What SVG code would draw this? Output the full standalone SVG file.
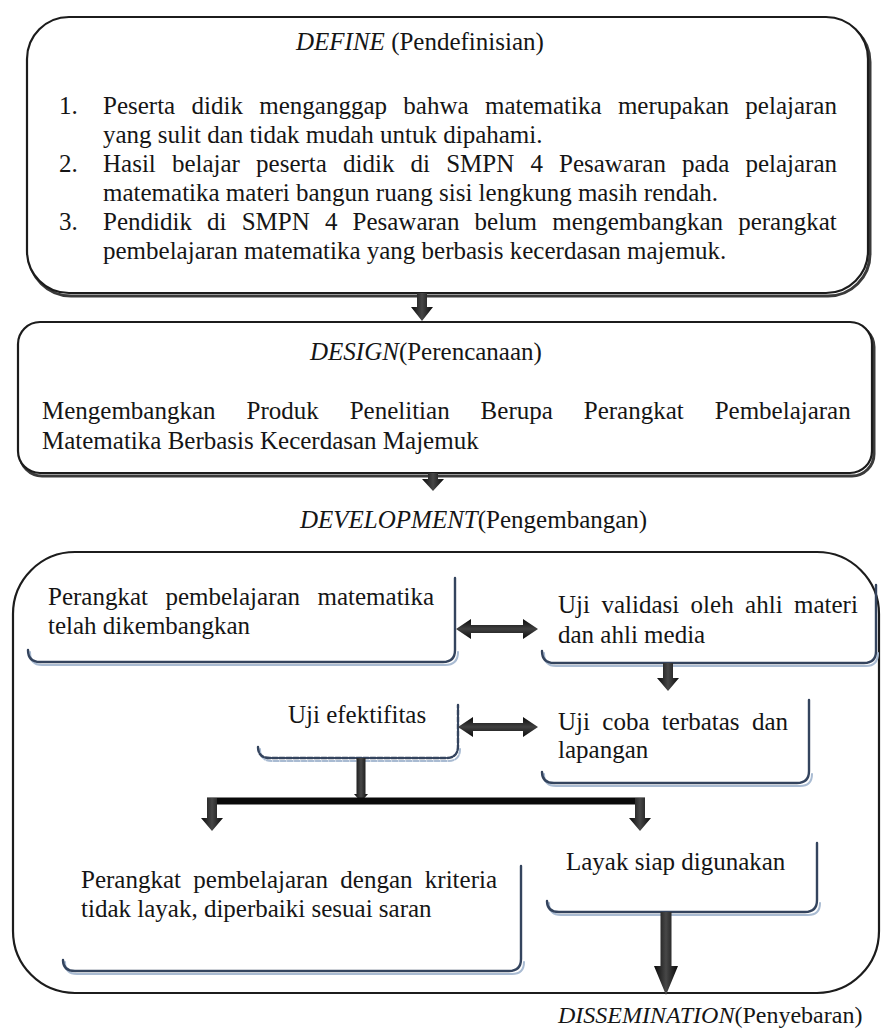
<svg xmlns="http://www.w3.org/2000/svg" width="881" height="1034" viewBox="0 0 881 1034">
<style>
text{font-family:'Liberation Serif','DejaVu Serif',serif;font-size:25px;fill:#151515}
.it{font-style:italic}
.main{fill:#fff;stroke:#1c1c1c;stroke-width:2.2}
.shadow{fill:none;stroke:#3a3a3a;stroke-width:3}
.sb{fill:none;stroke:#34445e;stroke-width:2.4;stroke-linecap:round}
.sbl{fill:none;stroke:#a9bbd2;stroke-width:2;stroke-linecap:round}
.dash{stroke-dasharray:5 2}
</style>
<defs>
<linearGradient id="gv" x1="0" y1="0" x2="1" y2="0">
<stop offset="0" stop-color="#0a0a0a"/><stop offset="0.5" stop-color="#474747"/><stop offset="1" stop-color="#0a0a0a"/>
</linearGradient>
<linearGradient id="gh" x1="0" y1="0" x2="0" y2="1">
<stop offset="0" stop-color="#0a0a0a"/><stop offset="0.5" stop-color="#404040"/><stop offset="1" stop-color="#0a0a0a"/>
</linearGradient>
</defs>
<rect width="881" height="1034" fill="#fff"/>

<g id="define">
<rect class="shadow" x="29" y="20" width="841" height="276" rx="42"/>
<rect class="main" x="27" y="17" width="841" height="276" rx="42"/>
<text x="296" y="50"><tspan class="it">DEFINE</tspan> (Pendefinisian)</text>
<text y="114"><tspan x="59">1.</tspan><tspan x="103" style="word-spacing:10.1px">Peserta didik menganggap bahwa matematika merupakan pelajaran</tspan></text>
<text x="103" y="143">yang sulit dan tidak mudah untuk dipahami.</text>
<text y="172"><tspan x="59">2.</tspan><tspan x="103" style="word-spacing:9.9px">Hasil belajar peserta didik di SMPN 4 Pesawaran pada pelajaran</tspan></text>
<text x="103" y="201">matematika materi bangun ruang sisi lengkung masih rendah.</text>
<text y="230"><tspan x="59">3.</tspan><tspan x="103" style="word-spacing:8.9px">Pendidik di SMPN 4 Pesawaran belum mengembangkan perangkat</tspan></text>
<text x="103" y="259">pembelajaran matematika yang berbasis kecerdasan majemuk.</text>
</g>

<g id="design">
<rect class="shadow" x="20" y="325" width="854" height="151" rx="22"/>
<rect class="main" x="18" y="322" width="854" height="151" rx="22"/>
<text x="310" y="360"><tspan class="it">DESIGN</tspan>(Perencanaan)</text>
<text x="42" y="419" style="word-spacing:24.7px">Mengembangkan Produk Penelitian Berupa Perangkat Pembelajaran</text>
<text x="42" y="449">Matematika Berbasis Kecerdasan Majemuk</text>
</g>

<g id="development">
<text x="300" y="528"><tspan class="it">DEVELOPMENT</tspan>(Pengembangan)</text>
<rect class="main" x="13" y="552" width="866" height="441" rx="62"/>
</g>

<g id="boxA">
<path class="sbl" d="M30,652 Q30,665 42,665 L445,665 Q458,665 458,652"/>
<path class="sb" d="M28,650 Q28,662 40,662 L443,662 Q455,662 455,650 L455,578"/>
<text x="48" y="605" style="word-spacing:11.2px">Perangkat pembelajaran matematika</text>
<text x="48" y="634">telah dikembangkan</text>
</g>

<g id="boxB">
<path class="sbl" d="M544,653 Q544,666 556,666 L866,666 Q878,666 878,653"/>
<path class="sb" d="M542,651 Q542,663 554,663 L864,663 Q876,663 876,651 L876,585"/>
<text x="558" y="613" style="word-spacing:5.2px">Uji validasi oleh ahli materi</text>
<text x="558" y="643">dan ahli media</text>
</g>

<g id="boxC">
<path class="sbl dash" d="M260,749 Q260,761 272,761 L448,761 Q460,761 460,749"/>
<path class="sb dash" d="M258,747 Q258,758 270,758 L446,758 Q458,758 458,746 L458,705"/>
<text x="288" y="723">Uji efektifitas</text>
</g>

<g id="boxD">
<path class="sbl" d="M544,774 Q544,786 556,786 L800,786 Q812,786 812,774"/>
<path class="sb" d="M542,772 Q542,783 554,783 L797,783 Q809,783 809,771 L809,700"/>
<text x="558" y="730" style="word-spacing:6.1px">Uji coba terbatas dan</text>
<text x="558" y="758">lapangan</text>
</g>

<g id="boxE">
<path class="sbl" d="M65,962 Q65,974 77,974 L512,974 Q524,974 524,962"/>
<path class="sb" d="M63,960 Q63,971 75,971 L509,971 Q521,971 521,959 L521,866"/>
<text x="81" y="888" style="word-spacing:6.1px">Perangkat pembelajaran dengan kriteria</text>
<text x="81" y="917">tidak layak, diperbaiki sesuai saran</text>
</g>

<g id="boxF">
<path class="sbl" d="M549,903 Q549,915 561,915 L808,915 Q820,915 820,903"/>
<path class="sb" d="M547,901 Q547,912 559,912 L805,912 Q817,912 817,900 L817,843"/>
<text x="566" y="870">Layak siap digunakan</text>
</g>

<g id="dissemination">
<text x="558" y="1023" style="font-size:24px"><tspan class="it">DISSEMINATION</tspan>(Penyebaran)</text>
</g>

<g id="connectors">
<path fill="url(#gv)" d="M417,293 L427,293 L427,307 L433,307 L422,321 L411,307 L417,307 Z"/>
<path fill="url(#gv)" d="M428,473 L438,473 L438,479 L444,479 L433,491 L422,479 L428,479 Z"/>
<path fill="url(#gh)" d="M456,629 L471,619 L471,625 L523,625 L523,619 L538,629 L523,639 L523,633 L471,633 L471,639 Z"/>
<path fill="url(#gv)" d="M663,663 L673,663 L673,678 L679,678 L668,691 L657,678 L663,678 Z"/>
<path fill="url(#gh)" d="M458,727 L473,717 L473,723 L523,723 L523,717 L538,727 L523,737 L523,731 L473,731 L473,737 Z"/>
<path fill="url(#gv)" d="M356.5,758 L365.5,758 L365.5,794 L368,794 L361,802 L354,794 L356.5,794 Z"/>
<rect x="207" y="797.5" width="438" height="7" fill="#0a0a0a"/>
<path fill="url(#gv)" d="M207,798 L217,798 L217,818 L223,818 L212,831 L201,818 L207,818 Z"/>
<path fill="url(#gv)" d="M635,798 L645,798 L645,818 L651,818 L640,831 L629,818 L635,818 Z"/>
<path fill="url(#gv)" d="M660.5,912 L671.5,912 L671.5,966 L678,966 L666,995 L654,966 L660.5,966 Z"/>
</g>
</svg>
